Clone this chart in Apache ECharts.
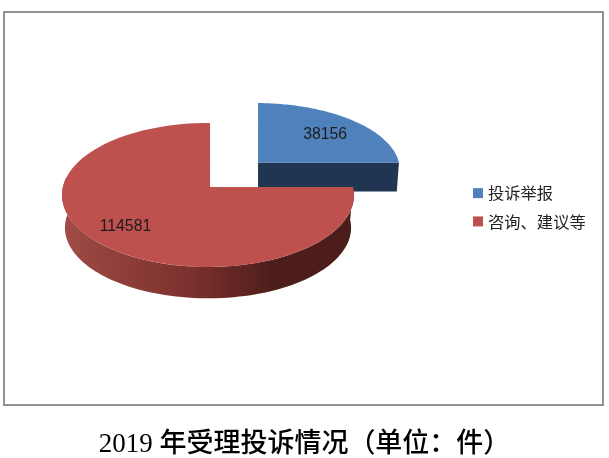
<!DOCTYPE html>
<html><head><meta charset="utf-8">
<style>html,body{margin:0;padding:0;background:#fff}#c{width:609px;height:458px}</style>
<script src="https://cdn.jsdelivr.net/npm/echarts@6/dist/echarts.min.js"></script>
</head><body><div id="c"></div>
<script>
const categories = ['投诉举报', '咨询、建议等'];
const values = [38156, 114581];
const chartTitle = '2019 年受理投诉情况（单位：件）';

const total = values.reduce((a, b) => a + b, 0);
// Look of each slice, in units of the red slice's ellipse (the grid spans -1..1)
const looks = [
  {top:'#4F81BD', side:'#1F3552', cx:0.329, cy:-0.347, sx:0.985, sy:0.93, ax:0.014, ay:-0.111, depth:0.40, shrink:0.985, labX:0.66, labY:0.60},
  {top:'#BE504D', side:null, cx:0, cy:0, sx:1, sy:1, ax:0.014, ay:-0.111, depth:0.455, shrink:0.98, labX:0.82, labY:0.77}
];
const sideGradient = new echarts.graphic.LinearGradient(0, 0, 1, 0, [
  {offset:0, color:'#A34C48'}, {offset:0.1, color:'#96453F'}, {offset:0.45, color:'#7B302D'},
  {offset:0.72, color:'#4E1E1B'}, {offset:1, color:'#4A1C1A'}
]);

function rayPoint(k, deg) {           // point of slice k's rim on the ray at deg, clockwise from 12 o'clock
  const L = looks[k], t = deg * Math.PI / 180, dx = Math.sin(t), dy = -Math.cos(t);
  const b = L.ax * dx + L.ay * dy, c = L.ax * L.ax + L.ay * L.ay - 1;
  const s = -b + Math.sqrt(b * b - c);
  return [L.ax + s * dx, L.ay + s * dy];
}
function place(k, p, lower) {
  const L = looks[k];
  const sc = lower ? L.shrink : 1, d = lower ? L.depth : 0;
  return [L.cx + p[0] * L.sx * sc, L.cy + p[1] * L.sy * sc + d];
}
function angles(a, b) {
  const out = [], n = 90;
  for (let i = 0; i <= n; i++) out.push(a + (b - a) * i / n);
  return out;
}
function render(k) {
  return function (params, api) {
    const L = looks[k];
    const start = values.slice(0, k).reduce((a, b) => a + b, 0) / total * 360;
    const end = start + values[k] / total * 360;
    const apex = [L.cx + L.ax * L.sx, L.cy + L.ay * L.sy];
    const apexLow = [apex[0], apex[1] + L.depth];
    const children = [];
    const arc = angles(start, end).map(d => place(k, rayPoint(k, d), false));
    if (k === 0) {
      const e = arc[arc.length - 1];
      const eLow = place(k, rayPoint(k, end), true);
      children.push({type:'polygon', shape:{points:[apex, e, eLow, apexLow].map(api.coord)}, style:{fill:L.side}});
    } else {
      const from = start, to = 278;
      const up = angles(from, to).map(d => place(k, rayPoint(k, d), false));
      const low = angles(from, to).map(d => place(k, rayPoint(k, d), true)).reverse();
      children.push({type:'polygon', shape:{points:up.concat(low).map(api.coord)}, style:{fill:sideGradient}});
    }
    children.push({type:'polygon', shape:{points:[apex].concat(arc).map(api.coord)}, style:{fill:L.top}});
    const mid = (start + end) / 2 * Math.PI / 180;
    const lp = api.coord([apex[0] + Math.sin(mid) * L.labX * L.sx, apex[1] - Math.cos(mid) * L.labY * L.sy]);
    children.push({type:'text', x:lp[0], y:lp[1], style:{text:String(values[k]), fill:'#1c1c1c',
      font:'15.8px "Liberation Sans", Arial, sans-serif', align:'center', verticalAlign:'middle'}});
    return {type:'group', children};
  };
}
const chart = echarts.init(document.getElementById('c'), null, {renderer:'canvas'});
chart.setOption({
  animation:false,
  backgroundColor:'#fff',
  title:{text:chartTitle, left:'center', top:431, padding:0,
    textStyle:{fontFamily:'"Liberation Serif","Noto Sans CJK SC"', fontSize:27, fontWeight:500, color:'#000'}},
  grid:{left:62, top:123, width:292, height:144},
  xAxis:{type:'value', min:-1, max:1, show:false},
  yAxis:{type:'value', min:-1, max:1, inverse:true, show:false},
  legend:{orient:'vertical', left:468, top:180, itemWidth:10, itemHeight:10, itemGap:12, icon:'rect',
    data:categories, textStyle:{fontFamily:'"Noto Sans CJK SC"', fontSize:16.3, color:'#222', padding:[0,0,4,0]}},
  graphic:[{type:'rect', silent:true, shape:{x:4, y:12, width:599, height:393},
    style:{fill:'none', stroke:'#929292', lineWidth:2}, z:-1}],
  series:categories.map((name, k) => ({
    type:'custom', name, data:[[values[k]]], encode:{x:-1, y:-1},
    itemStyle:{color:looks[k].top}, renderItem:render(k), z:2 + k
  }))
});
</script></body></html>
